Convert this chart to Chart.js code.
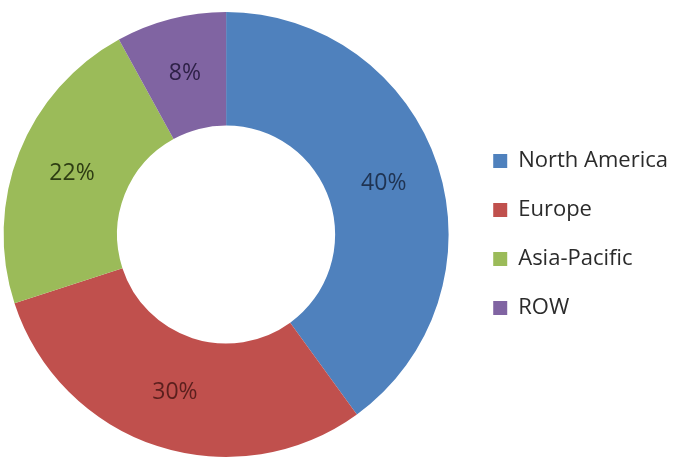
<!DOCTYPE html>
<html>
<head>
<meta charset="utf-8">
<script src="https://cdn.jsdelivr.net/npm/chart.js@4.4.0/dist/chart.umd.min.js"></script>
<style>
  html, body { margin: 0; padding: 0; background: #fff; overflow: hidden; }
  /* canvas is a bit wider than the page and shifted left so the ring sits where the original has it */
  #wrap { width: 692px; height: 459px; position: relative; margin-left: -14px; }
</style>
</head>
<body>
<div id="wrap"><canvas id="chart"></canvas></div>
<script>
// data
var regions = ["North America", "Europe", "Asia-Pacific", "ROW"];
var shares = [40, 30, 22, 8];
var sliceColors = ['#4F81BD', '#C0504D', '#9BBB59', '#8064A2'];
var labelColors = ['#1F3352', '#5A1F1D', '#2E3D13', '#2E2147'];

// percent labels in the middle of each slice
var sliceLabels = {
  id: 'sliceLabels',
  afterDatasetsDraw: function(chart) {
    var ctx = chart.ctx;
    var meta = chart.getDatasetMeta(0);
    ctx.save();
    ctx.font = '23px "Open Sans"';
    ctx.textAlign = 'center';
    ctx.textBaseline = 'middle';
    meta.data.forEach(function(arc, i) {
      var p = arc.tooltipPosition();
      ctx.fillStyle = labelColors[i];
      ctx.fillText(shares[i] + '%', p.x, p.y);
    });
    ctx.restore();
  }
};

var config = {
  type: 'doughnut',
  data: {
    labels: regions,
    datasets: [{
      data: shares,
      backgroundColor: sliceColors,
      borderWidth: 0
    }]
  },
  options: {
    responsive: true,
    maintainAspectRatio: false,
    animation: false,
    events: [],
    cutout: '49%',
    layout: {
      padding: { left: 0, right: 0, top: 12, bottom: 2 }
    },
    plugins: {
      tooltip: { enabled: false },
      legend: {
        position: 'right',
        labels: {
          boxWidth: 14,
          boxHeight: 14,
          padding: 27,
          color: '#2b2b2b',
          font: { family: '"Open Sans"', size: 22 }
        }
      }
    }
  },
  plugins: [sliceLabels]
};

var ctx = document.getElementById('chart').getContext('2d');
var donut = new Chart(ctx, config);
</script>
</body>
</html>
